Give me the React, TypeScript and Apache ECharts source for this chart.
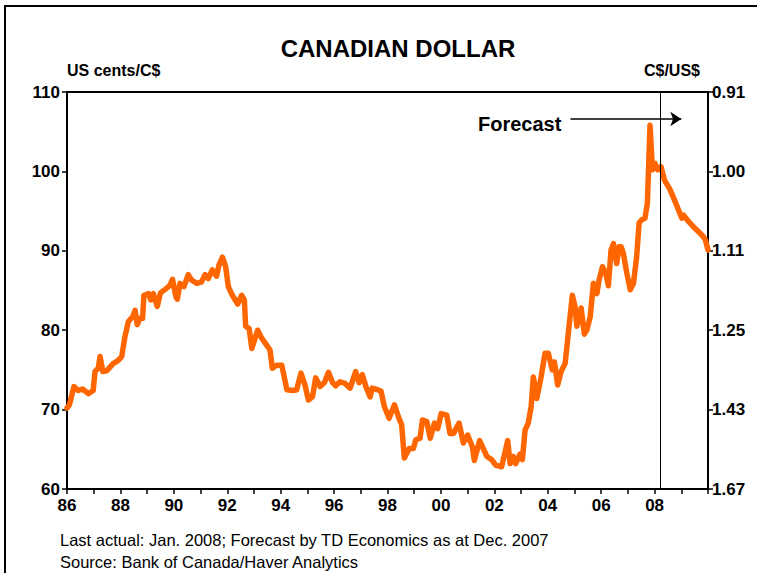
import React, { useEffect, useRef } from "react";
import * as echarts from "echarts";

const years = [
  1986.0, 1986.09, 1986.26, 1986.42, 1986.58, 1986.8, 1986.98, 1987.05, 1987.17, 1987.24,
  1987.34, 1987.49, 1987.73, 1987.92, 1988.05, 1988.17, 1988.3, 1988.46, 1988.55, 1988.63,
  1988.73, 1988.83, 1988.88, 1989.05, 1989.14, 1989.23, 1989.38, 1989.5, 1989.7, 1989.86,
  1989.95, 1990.08, 1990.13, 1990.23, 1990.38, 1990.54, 1990.67, 1990.86, 1991.04, 1991.17,
  1991.29, 1991.44, 1991.6, 1991.69, 1991.82, 1991.94, 1992.04, 1992.19, 1992.39, 1992.54,
  1992.64, 1992.69, 1992.82, 1992.92, 1993.14, 1993.29, 1993.48, 1993.6, 1993.69, 1993.85,
  1994.04, 1994.16, 1994.23, 1994.47, 1994.6, 1994.76, 1994.91, 1995.04, 1995.19, 1995.31,
  1995.48, 1995.64, 1995.79, 1995.94, 1996.06, 1996.22, 1996.41, 1996.6, 1996.81, 1996.94,
  1997.06, 1997.19, 1997.35, 1997.43, 1997.63, 1997.76, 1997.88, 1998.06, 1998.26, 1998.43,
  1998.53, 1998.63, 1998.81, 1998.97, 1999.06, 1999.22, 1999.31, 1999.47, 1999.6, 1999.76,
  1999.88, 2000.01, 2000.22, 2000.34, 2000.47, 2000.68, 2000.84, 2001.0, 2001.18, 2001.25,
  2001.45, 2001.72, 2001.9, 2002.05, 2002.27, 2002.42, 2002.5, 2002.59, 2002.71, 2002.8,
  2002.96, 2003.05, 2003.15, 2003.27, 2003.38, 2003.46, 2003.59, 2003.75, 2003.9, 2004.02,
  2004.17, 2004.25, 2004.37, 2004.5, 2004.65, 2004.77, 2004.92, 2005.02, 2005.09, 2005.25,
  2005.37, 2005.46, 2005.59, 2005.71, 2005.84, 2005.92, 2006.05, 2006.17, 2006.27, 2006.37,
  2006.46, 2006.58, 2006.67, 2006.75, 2006.83, 2006.96, 2007.09, 2007.21, 2007.33, 2007.42,
  2007.52, 2007.64, 2007.73, 2007.83, 2007.92, 2008.02, 2008.12, 2008.24, 2008.37, 2008.58,
  2008.77, 2008.9, 2009.02, 2009.08, 2009.27, 2009.52, 2009.77, 2009.9, 2010.0,
];

const usCentsPerCad = [
  70.2, 70.6, 72.9, 72.4, 72.6, 72.0, 72.4, 74.8, 75.2, 76.7,
  74.8, 74.9, 75.8, 76.2, 76.7, 79.2, 81.1, 81.7, 82.5, 80.7,
  81.5, 81.5, 84.4, 84.6, 83.8, 84.6, 83.0, 84.7, 85.2, 85.7,
  86.4, 84.2, 83.9, 85.9, 85.5, 87.0, 86.3, 85.9, 86.1, 87.0,
  86.5, 87.6, 86.8, 88.2, 89.2, 88.0, 85.5, 84.4, 83.3, 84.4,
  83.8, 80.5, 80.2, 77.7, 80.0, 79.0, 78.1, 77.5, 75.2, 75.6,
  75.6, 73.7, 72.5, 72.4, 72.5, 74.6, 73.1, 71.2, 71.6, 74.0,
  72.9, 73.4, 74.7, 73.4, 73.0, 73.5, 73.3, 72.7, 74.8, 73.4,
  74.4, 72.9, 71.6, 72.7, 72.5, 72.3, 70.4, 68.9, 70.6, 68.9,
  68.1, 63.9, 65.1, 65.1, 66.2, 66.4, 68.7, 68.5, 66.4, 68.3,
  67.6, 69.5, 69.3, 67.0, 67.0, 68.3, 65.8, 66.8, 65.3, 63.6,
  66.1, 64.1, 63.7, 63.0, 62.8, 64.9, 66.1, 63.2, 64.1, 63.2,
  64.4, 63.7, 67.4, 68.3, 70.4, 74.1, 71.4, 74.1, 77.1, 77.1,
  75.0, 76.0, 73.1, 74.8, 75.8, 79.6, 84.4, 83.0, 80.5, 82.8,
  79.5, 80.0, 81.7, 85.9, 84.6, 86.3, 88.0, 87.2, 85.6, 90.1,
  90.9, 88.4, 90.5, 90.5, 89.7, 87.2, 85.1, 85.9, 89.3, 93.5,
  93.9, 94.1, 96.0, 105.8, 100.2, 101.0, 100.2, 100.6, 98.9, 97.7,
  96.2, 95.1, 94.1, 94.5, 93.7, 92.8, 92.0, 91.4, 90.1,
];

const xLabelYears = [1986, 1988, 1990, 1992, 1994, 1996, 1998, 2000, 2002, 2004, 2006, 2008];
const xLabels = ["86", "88", "90", "92", "94", "96", "98", "00", "02", "04", "06", "08"];
const rightTickValues = [60, 70, 80, 90, 100, 110];
const rightTickLabels = ["1.67", "1.43", "1.25", "1.11", "1.00", "0.91"];

const forecastStart = 2008.23;
const arrowStart = [2004.85, 106.6];
const arrowEnd = [2009.0, 106.6];

const FONT = "'Liberation Sans', Arial, sans-serif";

export default function App() {
  const ref = useRef<HTMLDivElement>(null);

  useEffect(() => {
    document.body.style.margin = "0";
    if (!ref.current) return;
    const chart = echarts.init(ref.current, null, { renderer: "svg" });
    const axisLabelStyle = {
      color: "#000",
      fontWeight: "bold" as const,
      fontSize: 17,
      fontFamily: FONT,
    };
    const nameStyle = { ...axisLabelStyle, fontSize: 16 };
    chart.setOption({
      animation: false,
      backgroundColor: "#fff",
      title: {
        text: "CANADIAN DOLLAR",
        left: 393,
        top: 31,
        textAlign: "center",
        textStyle: { color: "#000", fontWeight: "bold", fontSize: 24, fontFamily: FONT },
      },
      grid: {
        left: 67,
        right: 49,
        top: 92,
        bottom: 84,
        show: true,
        borderColor: "#000",
        borderWidth: 2,
        backgroundColor: "transparent",
      },
      xAxis: {
        type: "value",
        min: 1986,
        max: 2010,
        interval: 1,
        axisLine: { show: true, lineStyle: { color: "#000", width: 2 } },
        axisTick: { show: true, inside: false, length: 5, lineStyle: { color: "#000", width: 1.5 } },
        splitLine: { show: false },
        axisLabel: {
          ...axisLabelStyle,
          margin: 8,
          showMaxLabel: true,
          formatter: (v: number) => {
            const i = xLabelYears.indexOf(Math.round(v));
            return i >= 0 && Math.abs(v - Math.round(v)) < 1e-6 ? xLabels[i] : "";
          },
        },
      },
      yAxis: [
        {
          type: "value",
          min: 60,
          max: 110,
          interval: 10,
          name: "US cents/C$",
          nameLocation: "end",
          nameGap: 14,
          nameTextStyle: { ...nameStyle, align: "left" },
          axisLine: { show: true, lineStyle: { color: "#000", width: 2 } },
          axisTick: { show: true, inside: false, length: 5, lineStyle: { color: "#000", width: 1.5 } },
          splitLine: { show: false },
          axisLabel: { ...axisLabelStyle, margin: 7 },
        },
        {
          type: "value",
          min: 60,
          max: 110,
          interval: 10,
          position: "right",
          name: "C$/US$",
          nameLocation: "end",
          nameGap: 14,
          nameTextStyle: { ...nameStyle, align: "right", padding: [0, 8, 0, 0] },
          axisLine: { show: true, lineStyle: { color: "#000", width: 2 } },
          axisTick: { show: true, inside: false, length: 5, lineStyle: { color: "#000", width: 1.5 } },
          splitLine: { show: false },
          axisLabel: {
            ...axisLabelStyle,
            margin: 4,
            formatter: (v: number) => {
              const i = rightTickValues.indexOf(Math.round(v));
              return i >= 0 ? rightTickLabels[i] : "";
            },
          },
        },
      ],
      series: [
        {
          type: "line",
          data: years.map((y, i) => [y, usCentsPerCad[i]]),
          showSymbol: false,
          symbol: "none",
          clip: false,
          lineStyle: { color: "#FF6600", width: 5.5, join: "round", cap: "round" },
          z: 3,
          markLine: {
            silent: true,
            symbol: ["none", "none"],
            label: { show: false },
            data: [
              { xAxis: forecastStart, lineStyle: { color: "#000", width: 1, type: "solid" } },
              [
                { coord: arrowStart, symbol: "none", lineStyle: { color: "#000", width: 1.5, type: "solid" } },
                { coord: arrowEnd, symbol: "arrow", symbolSize: 11 },
              ],
            ],
            lineStyle: { color: "#000", width: 1, type: "solid" },
            z: 4,
          },
        },
      ],
      graphic: [
        {
          type: "rect",
          shape: { x: 5, y: 6, width: 820, height: 640 },
          style: { fill: "none", stroke: "#000", lineWidth: 2 },
          silent: true,
        },
        {
          type: "text",
          x: 478,
          y: 124,
          style: {
            text: "Forecast",
            fill: "#000",
            font: `bold 20px ${FONT}`,
            textVerticalAlign: "middle",
            textAlign: "left",
          },
        },
        {
          type: "text",
          x: 60,
          y: 540,
          style: {
            text: "Last actual: Jan. 2008; Forecast by TD Economics as at Dec. 2007",
            fill: "#000",
            font: `16.5px ${FONT}`,
            textVerticalAlign: "middle",
          },
        },
        {
          type: "text",
          x: 60,
          y: 562,
          style: {
            text: "Source: Bank of Canada/Haver Analytics",
            fill: "#000",
            font: `16.5px ${FONT}`,
            textVerticalAlign: "middle",
          },
        },
      ],
    });
    return () => chart.dispose();
  }, []);

  return <div ref={ref} style={{ width: 757, height: 573 }} />;
}
